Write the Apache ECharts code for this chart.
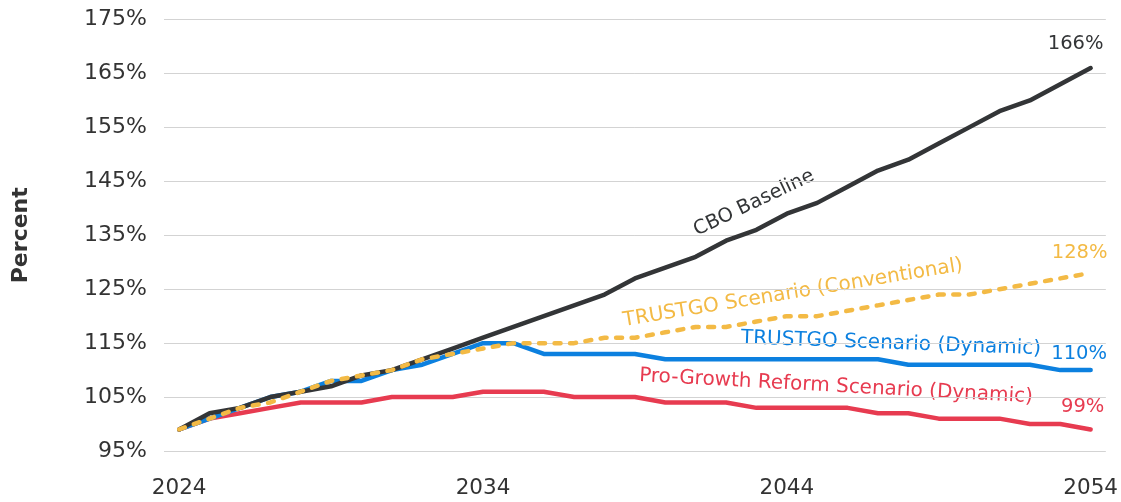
<!DOCTYPE html>
<html><head><meta charset="utf-8">
<script src="https://cdn.jsdelivr.net/npm/echarts@6/dist/echarts.min.js"></script>
<style>html,body{margin:0;padding:0;background:#fff}#c{width:1121px;height:502px}</style>
</head><body><div id="c"></div>
<script>
const years = ['2024','2025','2026','2027','2028','2029','2030','2031','2032','2033','2034','2035','2036','2037','2038','2039','2040','2041','2042','2043','2044','2045','2046','2047','2048','2049','2050','2051','2052','2053','2054'];
const cboBaseline = [99,102,103,105,106,107,109,110,112,114,116,118,120,122,124,127,129,131,134,136,139,141,144,147,149,152,155,158,160,163,166];
const trustgoConventional = [99,101,103,104,106,108,109,110,112,113,114,115,115,115,116,116,117,118,118,119,120,120,121,122,123,124,124,125,126,127,128];
const trustgoDynamic = [99,101,103,105,106,108,108,110,111,113,115,115,113,113,113,113,112,112,112,112,112,112,112,112,111,111,111,111,111,110,110];
const proGrowthDynamic = [99,101,102,103,104,104,104,105,105,105,106,106,106,105,105,105,104,104,104,103,103,103,103,102,102,101,101,101,100,100,99];
const yTicks = {min:95, max:175, interval:10};
const seriesNames = ['CBO Baseline','TRUSTGO Scenario (Conventional)','TRUSTGO Scenario (Dynamic)','Pro-Growth Reform Scenario (Dynamic)'];

const FONT = 'DejaVu Sans';
const C = {black:'#333537', yellow:'#F3BA45', blue:'#0C80DF', red:'#E73B50'};

function withEnd(vals, color, dx, dy){
  const last = vals.length-1;
  return vals.map((v,i)=> i===last ? {value:v, label:{show:true, position:'inside', offset:[dx,dy], formatter:'{c}%', color:color, fontSize:19.5, fontFamily:FONT}} : v);
}
function lineSeries(name, vals, color, dx, dy, z, extra){
  return Object.assign({name:name, type:'line', data:withEnd(vals, color, dx, dy), symbol:'circle', symbolSize:0.01, showSymbol:true, showAllSymbol:true,
    itemStyle:{color:color}, lineStyle:{color:color, width:4.5, join:'round', cap:'round'}, z:z, label:{show:false}}, extra||{});
}

const chart = echarts.init(document.getElementById('c'), null, {renderer:'canvas'});
chart.setOption({
  animation:false,
  backgroundColor:'#fff',
  grid:{left:164, right:15, top:19.5, bottom:51},
  xAxis:{type:'category', data:years, boundaryGap:true,
    axisLine:{show:false}, axisTick:{show:false},
    axisLabel:{interval:9, color:'#333', fontSize:21.5, fontFamily:FONT, margin:26}},
  yAxis:{type:'value', min:yTicks.min, max:yTicks.max, interval:yTicks.interval,
    axisLabel:{formatter:'{value}%', color:'#333', fontSize:22, fontFamily:FONT, margin:17},
    splitLine:{lineStyle:{color:'#d3d3d3', width:1}},
    name:'Percent', nameLocation:'middle', nameRotate:90, nameGap:132,
    nameTextStyle:{color:'#333', fontSize:22, fontWeight:'bold', fontFamily:FONT}},
  series:[
    lineSeries(seriesNames[3], proGrowthDynamic, C.red, -8, -22, 2),
    lineSeries(seriesNames[2], trustgoDynamic, C.blue, -11.5, -15.7, 3),
    lineSeries(seriesNames[0], cboBaseline, C.black, -15, -23.7, 4),
    lineSeries(seriesNames[1], trustgoConventional, C.yellow, -11, -19.7, 5,
      {lineStyle:{color:C.yellow, width:4.5, type:[6,9.5], cap:'round', join:'round'}})
  ],
  graphic:[
    {type:'text', x:754, y:203, rotation:25.5*Math.PI/180, style:{text:seriesNames[0], fill:C.black, font:'19.5px "'+FONT+'"', align:'center', verticalAlign:'middle'}},
    {type:'text', x:793, y:293, rotation:9.3*Math.PI/180, style:{text:seriesNames[1], fill:C.yellow, font:'20px "'+FONT+'"', align:'center', verticalAlign:'middle'}},
    {type:'text', x:891, y:343.5, rotation:-2.1*Math.PI/180, style:{text:seriesNames[2], fill:C.blue, font:'20px "'+FONT+'"', align:'center', verticalAlign:'middle'}},
    {type:'text', x:836, y:386.5, rotation:-3.1*Math.PI/180, style:{text:seriesNames[3], fill:C.red, font:'20px "'+FONT+'"', align:'center', verticalAlign:'middle'}}
  ]
});
</script></body></html>
